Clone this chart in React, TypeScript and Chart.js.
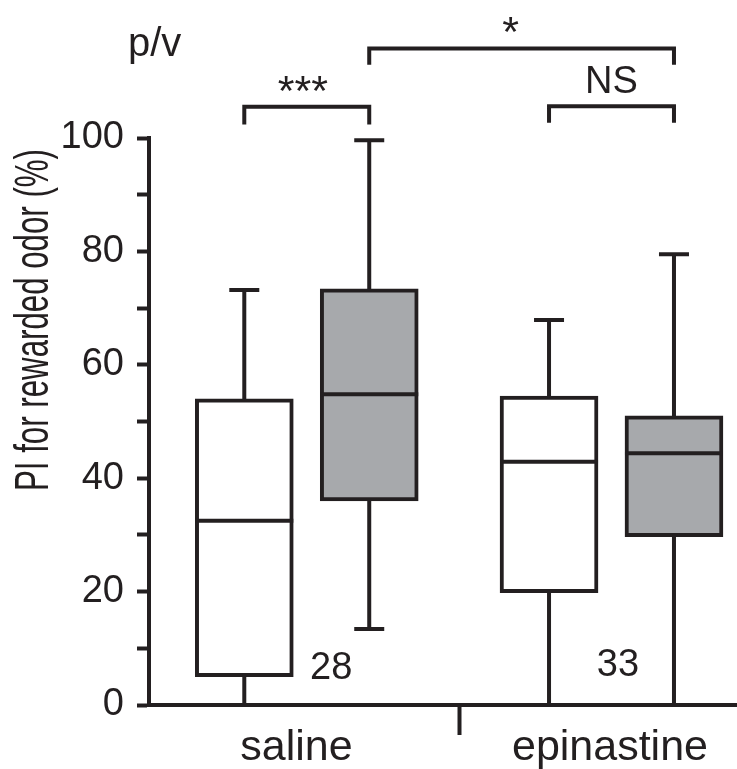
import React, { useEffect, useRef } from 'react';
import { Chart, registerables } from 'chart.js';

Chart.register(...registerables);

// ---------------- data ----------------
const groups = ['saline', 'epinastine'];
const sampleSizes = ['28', '33'];
const yLabeledTicks = [0, 20, 40, 60, 80, 100];

// white boxes (left box of each group)
const whiteMin = [0, 0];
const whiteQ1 = [5, 19.8];
const whiteMedian = [32.5, 42.9];
const whiteQ3 = [54, 54.5];
const whiteMax = [73.2, 67.9];

// grey boxes (right box of each group)
const greyMin = [13.4, 0];
const greyQ1 = [36, 29.7];
const greyMedian = [54.8, 44.4];
const greyQ3 = [73.4, 51];
const greyMax = [99.6, 79.5];

const sigLabels = ['***', 'NS', '*'];

// ---------------- layout / style ----------------
const FONT = "'Liberation Sans', Arial, Helvetica, sans-serif";
const DARK = '#231f20';
const GREY = '#a7a9ac';
const W = 737;
const H = 769;
const LW = 4;
const seriesOffset = [-0.205, 0.205];
const boxWidthPx = 98;
const capHalf = 15;
// brackets: box indices (group*2+series), horizontal level, leg end level, label offsets
const brackets = [
  { from: 0, to: 1, level: 105.5, leg: 102.4, dx: -4, dy: 2, size: 43 },
  { from: 2, to: 3, level: 105.6, leg: 102.7, dx: 0, dy: 13, size: 38 },
  { from: 1, to: 3, level: 115.8, leg: 112.9, dx: -11, dy: 2, size: 43 },
];
const nLabelPos = [
  { x: 0.08, y: 4.5 },
  { x: 1.021, y: 5.1 },
];

const series = [
  { min: whiteMin, q1: whiteQ1, med: whiteMedian, q3: whiteQ3, max: whiteMax, fill: '#ffffff' },
  { min: greyMin, q1: greyQ1, med: greyMedian, q3: greyQ3, max: greyMax, fill: GREY },
];

const boxPlugin = {
  id: 'boxExtras',
  beforeDatasetsDraw(chart: any) {
    const { ctx } = chart;
    const xs = chart.scales.x;
    const ys = chart.scales.y;
    ctx.save();
    ctx.strokeStyle = DARK;
    ctx.lineWidth = LW;
    ctx.lineCap = 'butt';
    series.forEach((s, si) => {
      groups.forEach((_, g) => {
        const x = xs.getPixelForValue(g + seriesOffset[si]);
        const yMin = ys.getPixelForValue(s.min[g]);
        const yMax = ys.getPixelForValue(s.max[g]);
        ctx.beginPath();
        ctx.moveTo(x, yMin);
        ctx.lineTo(x, yMax - LW / 2);
        ctx.moveTo(x - capHalf, yMin);
        ctx.lineTo(x + capHalf, yMin);
        ctx.moveTo(x - capHalf, yMax);
        ctx.lineTo(x + capHalf, yMax);
        ctx.stroke();
      });
    });
    ctx.restore();
  },
  afterDatasetsDraw(chart: any) {
    const { ctx } = chart;
    const ys = chart.scales.y;
    ctx.save();
    ctx.strokeStyle = DARK;
    ctx.lineWidth = LW;
    series.forEach((s, si) => {
      const meta = chart.getDatasetMeta(si);
      groups.forEach((_, g) => {
        const bar = meta.data[g];
        const y = ys.getPixelForValue(s.med[g]);
        ctx.beginPath();
        ctx.moveTo(bar.x - bar.width / 2, y);
        ctx.lineTo(bar.x + bar.width / 2, y);
        ctx.stroke();
      });
    });
    ctx.restore();
  },
  afterDraw(chart: any) {
    const { ctx } = chart;
    const xs = chart.scales.x;
    const ys = chart.scales.y;
    const boxX = (b: number) => xs.getPixelForValue(Math.floor(b / 2) + seriesOffset[b % 2]);
    ctx.save();
    ctx.fillStyle = DARK;
    ctx.strokeStyle = DARK;
    // brackets
    ctx.lineWidth = LW;
    ctx.lineJoin = 'miter';
    brackets.forEach((br, i) => {
      const x1 = boxX(br.from);
      const x2 = boxX(br.to);
      const yl = ys.getPixelForValue(br.level);
      const yleg = ys.getPixelForValue(br.leg);
      ctx.beginPath();
      ctx.moveTo(x1, yleg);
      ctx.lineTo(x1, yl);
      ctx.lineTo(x2, yl);
      ctx.lineTo(x2, yleg);
      ctx.stroke();
      ctx.font = `${br.size}px ${FONT}`;
      ctx.textAlign = 'center';
      ctx.textBaseline = 'alphabetic';
      ctx.fillText(sigLabels[i], (x1 + x2) / 2 + br.dx, yl - br.dy);
    });
    // sample sizes
    ctx.font = `38px ${FONT}`;
    ctx.textAlign = 'center';
    ctx.textBaseline = 'alphabetic';
    sampleSizes.forEach((n, i) => {
      ctx.fillText(n, xs.getPixelForValue(nLabelPos[i].x), ys.getPixelForValue(nLabelPos[i].y));
    });
    // p/v
    ctx.font = `40px ${FONT}`;
    ctx.textAlign = 'left';
    ctx.fillText('p/v', 128, 56);
    // y title (condensed)
    ctx.save();
    ctx.translate(35, 320);
    ctx.rotate(-Math.PI / 2);
    ctx.font = `48px ${FONT}`;
    const natural = ctx.measureText('PI for rewarded odor (%)').width;
    ctx.scale(342 / natural, 1);
    ctx.textAlign = 'center';
    ctx.textBaseline = 'middle';
    ctx.fillText('PI for rewarded odor (%)', 0, 0);
    ctx.restore();
    ctx.restore();
  },
};

const xTickValues = [-0.034, 0.5, 0.995];
const xTickLabels = [groups[0], '', groups[1]];

export default function App() {
  const ref = useRef<HTMLCanvasElement | null>(null);
  useEffect(() => {
    if (!ref.current) return;
    const chart = new Chart(ref.current, {
      type: 'bar',
      data: {
        datasets: series.map((s, si) => ({
          label: si === 0 ? 'white' : 'grey',
          data: groups.map((_, g) => ({ x: g + seriesOffset[si], y: [s.q1[g], s.q3[g]] })),
          backgroundColor: s.fill,
          borderColor: DARK,
          borderWidth: LW,
          borderSkipped: false,
          barThickness: boxWidthPx,
          grouped: false,
        })) as any,
      },
      options: {
        animation: false,
        responsive: false,
        maintainAspectRatio: false,
        devicePixelRatio: 1,
        layout: { padding: { top: 138, left: 0, right: 0, bottom: 0 } },
        plugins: { legend: { display: false }, tooltip: { enabled: false } },
        scales: {
          x: {
            type: 'linear',
            offset: false,
            min: -0.5177,
            max: 1.4118,
            afterBuildTicks: (s: any) => {
              s.ticks = xTickValues.map((v) => ({ value: v }));
            },
            afterFit: (s: any) => {
              s.height = H - 705;
            },
            ticks: {
              autoSkip: false,
              maxRotation: 0,
              callback: (_v: any, i: number) => xTickLabels[i],
              font: { family: FONT, size: 43 },
              color: DARK,
              padding: -13,
            },
            grid: {
              offset: false,
              drawOnChartArea: false,
              drawTicks: true,
              tickLength: 30,
              tickWidth: LW,
              tickColor: (c: any) => (c.index === 1 ? DARK : 'rgba(0,0,0,0)'),
            },
            border: { display: true, width: LW, color: DARK },
          },
          y: {
            min: 0,
            max: 100,
            afterFit: (s: any) => {
              s.width = 149;
            },
            ticks: {
              stepSize: 10,
              autoSkip: false,
              callback: (v: any) => (yLabeledTicks.includes(Number(v)) ? String(v) : ''),
              font: { family: FONT, size: 38 },
              color: DARK,
              padding: 13,
            },
            grid: {
              drawOnChartArea: false,
              drawTicks: true,
              tickLength: 12,
              tickWidth: LW,
              tickColor: DARK,
            },
            border: { display: true, width: LW, color: DARK },
          },
        },
      },
      plugins: [boxPlugin],
    } as any);
    return () => chart.destroy();
  }, []);
  return (
    <div style={{ position: 'absolute', left: 0, top: 0, width: W, height: H, background: '#fff' }}>
      <canvas ref={ref} width={W} height={H} style={{ width: W, height: H, display: 'block' }} />
    </div>
  );
}
